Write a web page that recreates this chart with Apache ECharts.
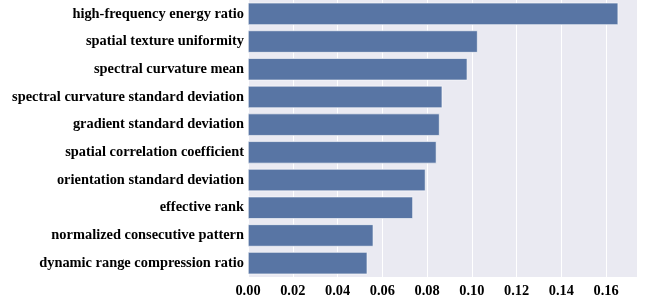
<!DOCTYPE html>
<html>
<head>
<meta charset="utf-8">
<script src="https://cdn.jsdelivr.net/npm/echarts@6/dist/echarts.min.js"></script>
<style>
    html, body {margin: 0; padding: 0; background: #fff;}
    #chart {width: 646px; height: 302px;}
</style>
</head>
<body>
<div id="chart"></div>
<script>
    // feature names, top to bottom
    var features = [
        'high-frequency energy ratio',
        'spatial texture uniformity',
        'spectral curvature mean',
        'spectral curvature standard deviation',
        'gradient standard deviation',
        'spatial correlation coefficient',
        'orientation standard deviation',
        'effective rank',
        'normalized consecutive pattern',
        'dynamic range compression ratio'
    ];
    // importance values
    var importance = [0.1654, 0.1026, 0.0980, 0.0868, 0.0856, 0.0842, 0.0793, 0.0737, 0.0560, 0.0533];

    var font = 'Liberation Serif';
    var myChart = echarts.init(document.getElementById('chart'));
    myChart.setOption({
        backgroundColor: '#ffffff',
        grid: {
            left: 248,
            right: 9,
            top: -2,
            bottom: 25,
            show: true,
            backgroundColor: '#EAEAF2',
            borderWidth: 0
        },
        xAxis: {
            type: 'value',
            min: 0,
            max: 0.1738,
            interval: 0.02,
            axisLine: {show: false},
            axisTick: {show: false},
            splitLine: {lineStyle: {color: '#ffffff', width: 1}},
            axisLabel: {
                showMaxLabel: false,
                margin: 7,
                color: '#000',
                fontFamily: font,
                fontWeight: 'bold',
                fontSize: 14.4,
                formatter: function (v) { return v.toFixed(2); }
            }
        },
        yAxis: {
            type: 'category',
            inverse: true,
            data: features,
            axisLine: {show: false},
            axisTick: {show: false},
            splitLine: {show: false},
            axisLabel: {
                margin: 4,
                color: '#000',
                fontFamily: font,
                fontWeight: 'bold',
                fontSize: 14.4
            }
        },
        series: [{
            type: 'bar',
            data: importance,
            barCategoryGap: '20%',
            itemStyle: {
                color: '#5875A4',
                borderColor: '#ffffff',
                borderWidth: 0.6
            },
            silent: true
        }],
        animation: false
    });
</script>
</body>
</html>
